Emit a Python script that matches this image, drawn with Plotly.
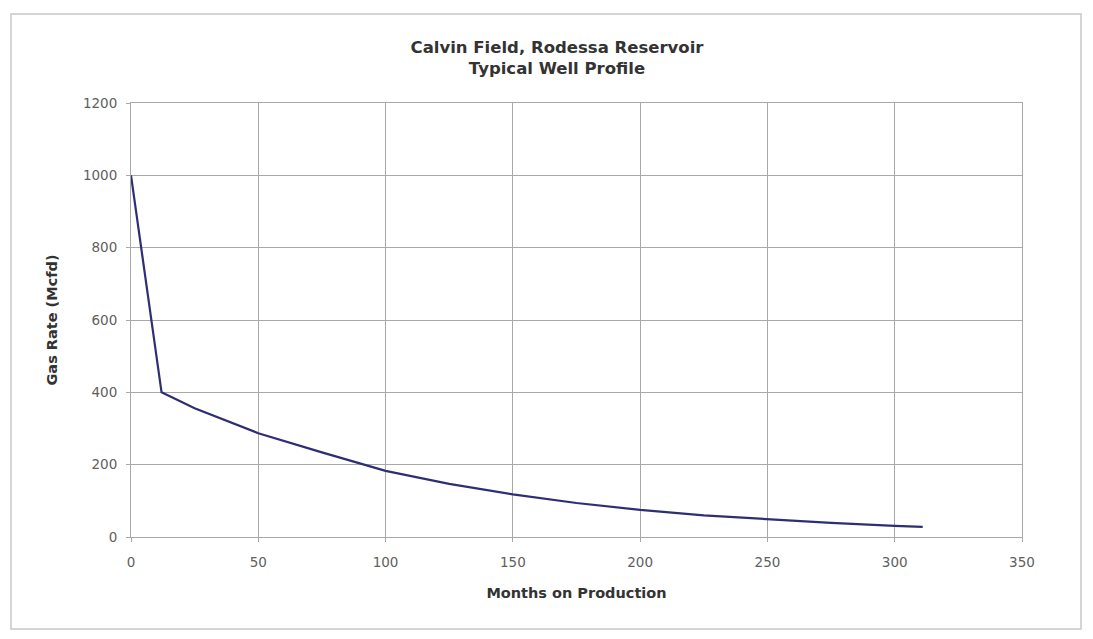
import plotly.graph_objects as go

# Typical well decline profile for the Rodessa reservoir
months = [0, 12, 25, 50, 75, 100, 125, 150, 175, 200, 225, 250, 275, 300, 311]
gas_rate = [1000, 400, 356, 287, 234, 183, 147, 118, 94, 75, 60, 49, 39, 31, 28]

x_ticks = [0, 50, 100, 150, 200, 250, 300, 350]
y_ticks = [0, 200, 400, 600, 800, 1000, 1200]

title_lines = ["Calvin Field, Rodessa Reservoir", "Typical Well Profile"]
x_title = "Months on Production"
y_title = "Gas Rate (Mcfd)"

FONT = "DejaVu Sans, Liberation Sans, Arial, sans-serif"
GRID = "#a8a8a8"

fig = go.Figure()
fig.add_trace(go.Scatter(
    x=months, y=gas_rate, mode="lines",
    line=dict(color="#2e2e74", width=2.2),
    hoverinfo="x+y", showlegend=False,
))

W, H = 1093, 639
fig.update_layout(
    width=W, height=H,
    margin=dict(l=131, r=71, t=103, b=102),
    paper_bgcolor="white", plot_bgcolor="white",
    font=dict(family=FONT, color="#555555", size=13),
    title=dict(
        text="<br>".join(title_lines),
        x=557 / W, xanchor="center", y=1 - 53 / H, yanchor="middle",
        font=dict(family=FONT, size=16.5, color="#333333", weight="bold"),
    ),
)

fig.update_xaxes(
    range=[0, 350], tickvals=x_ticks, ticktext=[str(v) for v in x_ticks],
    showgrid=True, gridcolor=GRID, gridwidth=1,
    showline=True, linecolor=GRID, linewidth=1, mirror=True,
    ticks="outside", ticklen=4, tickcolor=GRID, ticklabelstandoff=9,
    tickfont=dict(size=13.5, color="#606060"),
    zeroline=False,
    title=dict(text=f"<b>{x_title}</b>", standoff=18,
               font=dict(size=14.5, color="#333333")),
)
fig.update_yaxes(
    range=[0, 1200], tickvals=y_ticks, ticktext=[str(v) for v in y_ticks],
    showgrid=True, gridcolor=GRID, gridwidth=1,
    showline=True, linecolor=GRID, linewidth=1, mirror=True,
    ticks="outside", ticklen=4, tickcolor=GRID, ticklabelstandoff=6,
    tickfont=dict(size=13.5, color="#606060"),
    zeroline=False,
    title=dict(text=f"<b>{y_title}</b>", standoff=21,
               font=dict(size=14.5, color="#333333")),
)

# Light outer frame around the whole chart
fig.add_shape(
    type="rect", xref="paper", yref="paper",
    x0=(11 - 131) / (W - 131 - 71), x1=(1081 - 131) / (W - 131 - 71),
    y0=(H - 102 - 629) / (H - 103 - 102), y1=(H - 102 - 14) / (H - 103 - 102),
    line=dict(color="#c8c8c8", width=1.5), fillcolor="rgba(0,0,0,0)",
    layer="below",
)

fig.write_html("out.html")
